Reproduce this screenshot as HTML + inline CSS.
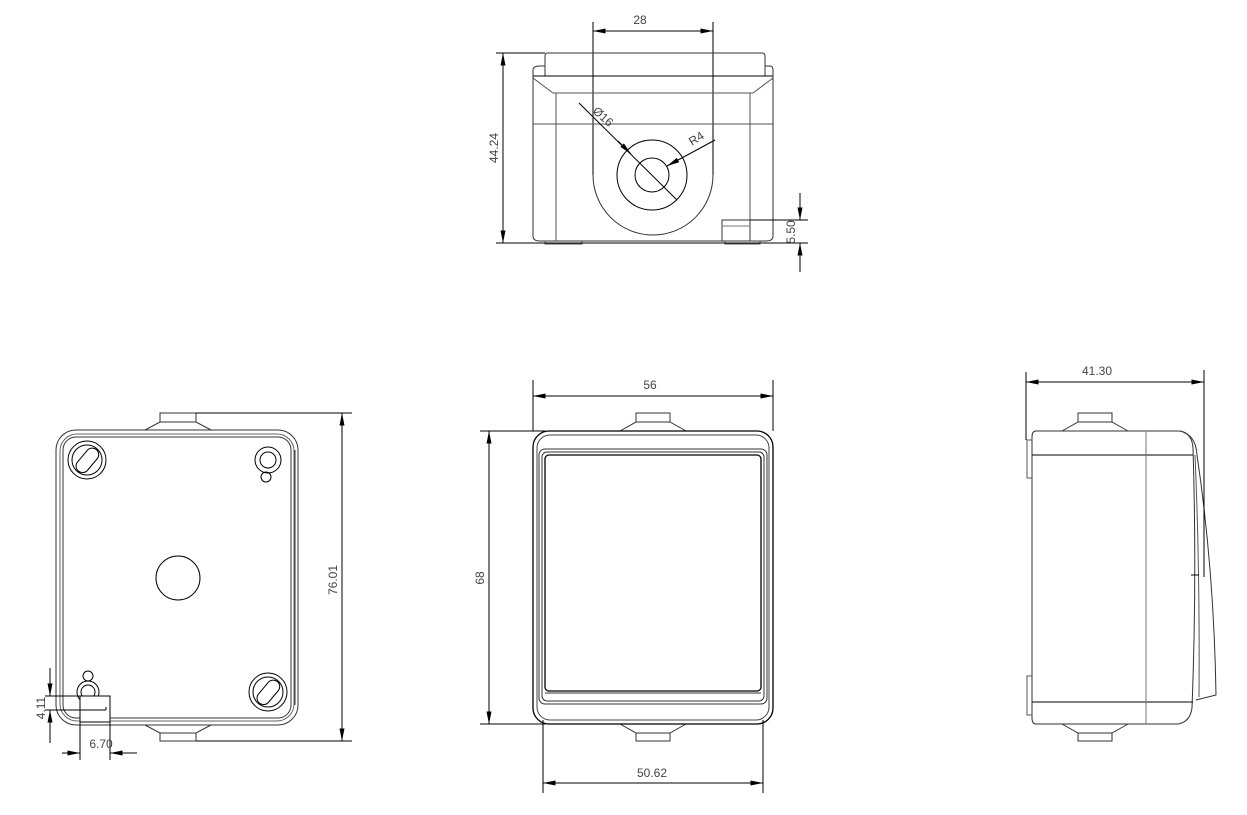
<!DOCTYPE html>
<html><head><meta charset="utf-8"><style>
html,body{margin:0;padding:0;background:#fff;}
svg{display:block;}
text{font-family:"Liberation Sans",sans-serif;font-size:12px;fill:#444;}
</style></head><body>
<svg width="1247" height="815" viewBox="0 0 1247 815" xmlns="http://www.w3.org/2000/svg">
<defs>
<marker id="a" viewBox="0 0 10 4" refX="10" refY="2" markerWidth="14" markerHeight="5" orient="auto-start-reverse" markerUnits="userSpaceOnUse"><path d="M0,0 L10,2 L0,4 z" fill="#000"/></marker>
</defs>
<g fill="none" stroke="#000" stroke-width="1">
<!-- ===== TOP VIEW ===== -->
<line x1="593" y1="22" x2="593" y2="175"/>
<line x1="713" y1="22" x2="713" y2="175"/>
<line x1="593" y1="31" x2="713" y2="31" marker-start="url(#a)" marker-end="url(#a)"/>
<path d="M593,175 A60,60 0 0 0 713,175" stroke="#333"/>
<path d="M545,76 L545,56 Q545,53 548,53 L762,53 Q765,53 765,56 L765,76" stroke="#333"/>
<path d="M533,76 L533,70 Q533,66 540,66 L545,66 M765,66 L770,66 Q773,66 773,70 L773,76" stroke="#333"/>
<line x1="533" y1="76" x2="773" y2="76"/>
<line x1="533" y1="78" x2="553" y2="93" stroke="#555"/>
<line x1="773" y1="78" x2="753" y2="93" stroke="#555"/>
<line x1="553" y1="93" x2="753" y2="93" stroke="#555"/>
<line x1="533" y1="124" x2="773" y2="124" stroke="#555"/>
<path d="M533,76 L533,236 Q533,241 540,241 L766,241 Q773,241 773,236 L773,76" stroke="#333"/>
<line x1="556" y1="93" x2="556" y2="241" stroke="#555"/>
<line x1="750" y1="93" x2="750" y2="241" stroke="#555"/>
<path d="M545,241 L545,244 L582,244 L582,241 M725,241 L725,244 L760,244 L760,241" stroke="#555"/>
<rect x="722" y="220" width="28" height="21" stroke="#333"/>
<line x1="722" y1="226" x2="750" y2="226" stroke="#777"/>
<circle cx="652" cy="175" r="35"/>
<circle cx="652" cy="175" r="17"/>
<line x1="579" y1="103" x2="677" y2="200"/>
<line x1="618" y1="141" x2="631" y2="154" marker-end="url(#a)"/>
<line x1="715" y1="140" x2="667" y2="166" marker-end="url(#a)"/>
<line x1="496" y1="53" x2="545" y2="53"/>
<line x1="496" y1="243" x2="808" y2="243"/>
<line x1="503" y1="53" x2="503" y2="243" marker-start="url(#a)" marker-end="url(#a)"/>
<line x1="750" y1="220" x2="808" y2="220"/>
<line x1="800" y1="193" x2="800" y2="220" marker-end="url(#a)"/>
<line x1="800" y1="272" x2="800" y2="243" marker-end="url(#a)"/>

<!-- ===== BOTTOM-LEFT VIEW ===== -->
<path d="M160,422 L160,413 L196,413 L196,422 M145,430 L160,422 L196,422 L211,430" stroke="#333"/>
<path d="M160,733 L160,741 L196,741 L196,733 M145,725 L160,733 L196,733 L211,725" stroke="#333"/>
<rect x="56" y="430" width="242" height="295" rx="20" stroke="#333"/>
<rect x="60" y="434" width="234" height="287" rx="17" stroke="#666"/>
<rect x="63" y="437" width="228" height="281" rx="13" stroke="#333"/>
<line x1="295" y1="450" x2="295" y2="705" stroke="#333"/>
<circle cx="87" cy="460" r="19"/><circle cx="87" cy="460" r="15"/>
<rect x="73" y="454" width="28" height="13" rx="6.5" transform="rotate(-50 87 460)"/>
<circle cx="268" cy="460" r="13"/><circle cx="268" cy="460" r="8"/><circle cx="266" cy="477" r="5"/>
<circle cx="178" cy="578" r="22"/>
<circle cx="268" cy="692" r="19"/><circle cx="268" cy="692" r="15"/>
<rect x="254" y="686" width="28" height="13" rx="6.5" transform="rotate(-50 268 692)"/>
<circle cx="88" cy="692" r="11"/><circle cx="88" cy="692" r="7"/><circle cx="88" cy="676" r="5"/>
<rect x="80" y="696" width="30" height="26" fill="#fff"/>
<line x1="80" y1="710" x2="106" y2="710"/><line x1="106" y1="707" x2="106" y2="710"/>
<line x1="196" y1="413" x2="352" y2="413"/>
<line x1="196" y1="741" x2="352" y2="741"/>
<line x1="342" y1="413" x2="342" y2="741" marker-start="url(#a)" marker-end="url(#a)"/>
<line x1="45" y1="696" x2="80" y2="696"/>
<line x1="45" y1="710" x2="80" y2="710"/>
<line x1="50" y1="668" x2="50" y2="696" marker-end="url(#a)"/>
<line x1="50" y1="743" x2="50" y2="710" marker-end="url(#a)"/>
<line x1="80" y1="722" x2="80" y2="760"/>
<line x1="110" y1="722" x2="110" y2="760"/>
<line x1="62" y1="753" x2="80" y2="753" marker-end="url(#a)"/>
<line x1="137" y1="753" x2="110" y2="753" marker-end="url(#a)"/>

<!-- ===== FRONT VIEW ===== -->
<path d="M636,422 L636,413 L670,413 L670,422 M620,431 L636,422 L670,422 L686,431" stroke="#333"/>
<path d="M636,733 L636,741 L670,741 L670,733 M620,724 L636,733 L670,733 L686,724" stroke="#333"/>
<rect x="533" y="431" width="240" height="293" rx="16" stroke="#000" stroke-width="1.3"/>
<rect x="537" y="435" width="232" height="285" rx="13" stroke="#444"/>
<rect x="539" y="449" width="228" height="255" rx="6" stroke="#333"/>
<rect x="542" y="452" width="222" height="249" rx="5" stroke="#333"/>
<rect x="545" y="455" width="216" height="236" rx="4" stroke="#000" stroke-width="1.3"/>
<line x1="545" y1="693" x2="761" y2="693" stroke="#333"/>
<line x1="533" y1="380" x2="533" y2="431"/>
<line x1="773" y1="380" x2="773" y2="431"/>
<line x1="533" y1="396" x2="773" y2="396" marker-start="url(#a)" marker-end="url(#a)"/>
<line x1="480" y1="431" x2="545" y2="431"/>
<line x1="480" y1="724" x2="545" y2="724"/>
<line x1="489" y1="431" x2="489" y2="724" marker-start="url(#a)" marker-end="url(#a)"/>
<line x1="543" y1="720" x2="543" y2="793"/>
<line x1="763" y1="720" x2="763" y2="793"/>
<line x1="543" y1="783" x2="763" y2="783" marker-start="url(#a)" marker-end="url(#a)"/>

<!-- ===== SIDE VIEW ===== -->
<path d="M1078,422 L1078,413 L1112,413 L1112,422 M1062,431 L1078,422 L1112,422 L1128,431" stroke="#333"/>
<path d="M1078,733 L1078,741 L1112,741 L1112,733 M1062,724 L1078,733 L1112,733 L1128,724" stroke="#333"/>
<path d="M1036,431 L1180,431 Q1192,433 1193,448 Q1197,580 1192,708 Q1190,722 1178,724 L1036,724 Q1032,724 1032,718 L1032,437 Q1032,431 1036,431 Z" stroke="#333"/>
<path d="M1180,431 Q1196,435 1197,455 Q1214,570 1216,695 L1196,700" stroke="#333"/>
<path d="M1195,455 Q1200,570 1199,697" stroke="#555"/>
<line x1="1191" y1="575" x2="1199" y2="575"/>
<path d="M1032,440 L1027,440 L1027,478 L1032,478 M1032,676 L1027,676 L1027,715 L1032,715" stroke="#555"/>
<line x1="1032" y1="455" x2="1193" y2="455"/>
<line x1="1032" y1="702" x2="1193" y2="702"/>
<line x1="1146" y1="431" x2="1146" y2="724" stroke="#777"/>
<line x1="1026" y1="372" x2="1026" y2="440"/>
<line x1="1204" y1="370" x2="1204" y2="577"/>
<line x1="1026" y1="382" x2="1204" y2="382" marker-start="url(#a)" marker-end="url(#a)"/>
</g>
<!-- labels -->
<text x="640" y="24" text-anchor="middle">28</text>
<text transform="translate(498,148) rotate(-90)" text-anchor="middle">44.24</text>
<text transform="translate(795,232) rotate(-90)" text-anchor="middle">5.50</text>
<text transform="translate(592,112) rotate(42)">Ø16</text>
<text transform="translate(692,146) rotate(-32)">R4</text>
<text transform="translate(337,580) rotate(-90)" text-anchor="middle">76.01</text>
<text transform="translate(45,708) rotate(-90)" text-anchor="middle">4.11</text>
<text x="101" y="748" text-anchor="middle">6.70</text>
<text x="650" y="389" text-anchor="middle">56</text>
<text transform="translate(484,578) rotate(-90)" text-anchor="middle">68</text>
<text x="652" y="777" text-anchor="middle">50.62</text>
<text x="1097" y="375" text-anchor="middle">41.30</text>
</svg>
</body></html>
